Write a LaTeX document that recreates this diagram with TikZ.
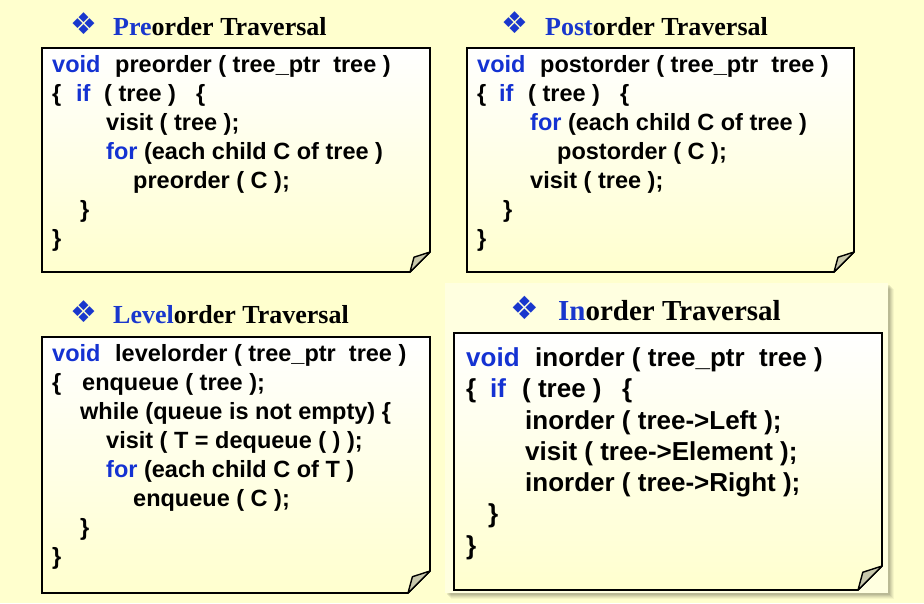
\documentclass[tikz,border=0pt]{standalone}
\usepackage{fontspec}
\setmainfont{Liberation Serif}
\newfontfamily\codefont{Liberation Sans}
\newfontfamily\symfont{DejaVu Sans}
\definecolor{bgyellow}{RGB}{255,255,206}
\definecolor{panelyellow}{RGB}{255,255,224}
\definecolor{kblue}{RGB}{20,50,210}
\definecolor{tblue}{RGB}{25,55,205}
\definecolor{flapcol}{RGB}{200,200,172}
\newcommand\notebox[5]{%
  \path[top color=white,bottom color=bgyellow,draw=black,line width=1.6pt,line join=miter]
    (#1,#2) -- (#3,#2) -- (#3,{#4-#5}) -- ({#3-#5},#4) -- (#1,#4) -- cycle;
  \path[fill=flapcol,draw=black,line width=1.4pt,line join=round]
    ({#3-#5},#4) -- ({#3-0.8*#5},{#4-0.74*#5}) -- (#3,{#4-#5}) -- cycle;
}
\newcommand\kw[1]{\textcolor{kblue}{#1}}
\begin{document}
\begin{tikzpicture}[x=1pt,y=-1pt,
  code/.style={anchor=base west,inner sep=0pt,font=\codefont\bfseries\fontsize{23.5}{28}\selectfont},
  bigcode/.style={anchor=base west,inner sep=0pt,font=\codefont\bfseries\fontsize{26}{31}\selectfont},
  title/.style={anchor=base west,inner sep=0pt,font=\bfseries\fontsize{26}{30}\selectfont},
  bigtitle/.style={anchor=base west,inner sep=0pt,font=\bfseries\fontsize{29}{33}\selectfont},
  bullet/.style={anchor=center,inner sep=0pt,text=tblue,font=\symfont\fontsize{30}{34}\selectfont},
  bigbullet/.style={anchor=center,inner sep=0pt,text=tblue,font=\symfont\fontsize{32}{36}\selectfont}]
\useasboundingbox (0,0) rectangle (924,603);
\fill[bgyellow] (0,0) rectangle (924,603);
% inorder highlight panel with shadow
\foreach \s/\o in {6/0.04,5/0.05,4/0.06,3/0.07,2/0.08}{
  \fill[black,opacity=\o] ({445+\s},{283+\s}) rectangle ({888+\s},{593+\s});
}
\fill[panelyellow] (445,283) rectangle (888,593);

% boxes
\notebox{42}{48}{430}{272}{20}
\notebox{467}{48}{854}{272}{20}
\notebox{42}{337}{430}{593}{22}
\notebox{454}{333}{882}{590}{24}

% titles
\node[bullet] (b1) at (83.5,24) {❖};
\node[title] (t1) at (113,35) {\textcolor{tblue}{Pre}order Traversal};
\node[bullet] (b2) at (515,23) {❖};
\node[title] (t2) at (545,35) {\textcolor{tblue}{Post}order Traversal};
\node[bullet] (b3) at (83.5,312) {❖};
\node[title] (t3) at (113,323) {\textcolor{tblue}{Level}order Traversal};
\node[bigbullet] (b4) at (524.5,308) {❖};
\node[bigtitle] (t4) at (558,320) {\textcolor{tblue}{In}order Traversal};

% preorder code
\node[code] (p1a) at (52,72) {\kw{void}};
\node[code] (p1b) at (115,72) {preorder ( tree\_ptr\ \ tree )};
\node[code] (p2a) at (52,101) {\{};
\node[code] (p2b) at (76,101) {\kw{if}};
\node[code] (p2c) at (104,101) {( tree )};
\node[code] (p2d) at (196,101) {\{};
\node[code] (p3) at (106,130) {visit ( tree );};
\node[code] (p4) at (106,159) {\kw{for} (each child C of tree )};
\node[code] (p5) at (133,188) {preorder ( C );};
\node[code] (p6) at (80,217) {\}};
\node[code] (p7) at (52,246) {\}};

% postorder code
\node[code] (q1a) at (477,72) {\kw{void}};
\node[code] (q1b) at (540,72) {postorder ( tree\_ptr\ \ tree )};
\node[code] (q2a) at (477,101) {\{};
\node[code] (q2b) at (499,101) {\kw{if}};
\node[code] (q2c) at (528,101) {( tree )};
\node[code] (q2d) at (620,101) {\{};
\node[code] (q3) at (530,130) {\kw{for} (each child C of tree )};
\node[code] (q4) at (557,159) {postorder ( C );};
\node[code] (q5) at (530,188) {visit ( tree );};
\node[code] (q6) at (503,217) {\}};
\node[code] (q7) at (477,246) {\}};

% levelorder code
\node[code] (l1a) at (52,361) {\kw{void}};
\node[code] (l1b) at (115,361) {levelorder ( tree\_ptr\ \ tree )};
\node[code] (l2a) at (52,390) {\{};
\node[code] (l2b) at (82,390) {enqueue ( tree );};
\node[code] (l3) at (80,419) {while (queue is not empty) \{};
\node[code] (l4) at (106,448) {visit ( T = dequeue ( ) );};
\node[code] (l5) at (106,477) {\kw{for} (each child C of T )};
\node[code] (l6) at (133,506) {enqueue ( C );};
\node[code] (l7) at (80,535) {\}};
\node[code] (l8) at (52,564) {\}};

% inorder code
\node[bigcode] (i1a) at (466,366) {\kw{void}};
\node[bigcode] (i1b) at (535,366) {inorder ( tree\_ptr\ \ tree )};
\node[bigcode] (i2a) at (466,397) {\{};
\node[bigcode] (i2b) at (490,397) {\kw{if}};
\node[bigcode] (i2c) at (522,397) {( tree )};
\node[bigcode] (i2d) at (622,397) {\{};
\node[bigcode] (i3) at (525,429) {inorder ( tree->Left );};
\node[bigcode] (i4) at (525,460) {visit ( tree->Element );};
\node[bigcode] (i5) at (525,491) {inorder ( tree->Right );};
\node[bigcode] (i6) at (488,522) {\}};
\node[bigcode] (i7) at (466,554) {\}};
\end{tikzpicture}
\end{document}
